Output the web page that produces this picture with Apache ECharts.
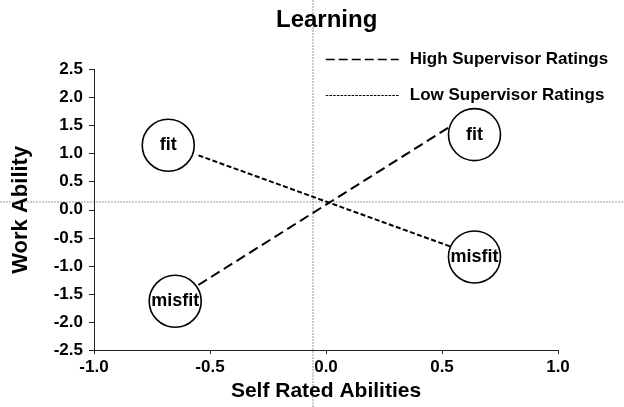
<!DOCTYPE html>
<html><head><meta charset="utf-8">
<script src="https://cdn.jsdelivr.net/npm/echarts@6/dist/echarts.min.js"></script>
<style>html,body{margin:0;padding:0;background:#fff}#c{width:624px;height:407px}</style>
</head><body><div id="c"></div>
<script>
// ---- data ----
const circleLabels = ['fit', 'misfit', 'fit', 'misfit'];
const circleX = [-0.68, -0.65, 0.64, 0.64];
const circleY = [1.15, -1.63, 1.34, -0.84];
const seriesNames = ['High Supervisor Ratings', 'Low Supervisor Ratings'];
const highX = [-0.55, 0.53];
const highY = [-1.34, 1.47];
const lowX = [-0.55, 0.54];
const lowY = [0.97, -0.66];
const xTickRange = [-1.0, 1.0];
const yTickRange = [-2.5, 2.5];
const tickStep = 0.5;

const FONT = "'Liberation Sans', Arial, sans-serif";
const chart = echarts.init(document.getElementById('c'), null, {renderer: 'canvas'});
const W = chart.getWidth(), H = chart.getHeight();

const zip = (xs, ys) => xs.map((x, i) => [x, ys[i]]);

chart.setOption({
  animation: false,
  backgroundColor: '#fff',
  color: ['#000', '#000', '#000'],
  title: {
    text: 'Learning', left: 276, top: 8, padding: 0,
    textStyle: {fontFamily: FONT, fontSize: 24, fontWeight: 'bold', color: '#000'}
  },
  legend: {
    orient: 'vertical', left: 325, top: 51, padding: 0, itemWidth: 73, itemHeight: 14, itemGap: 19,
    textStyle: {fontFamily: FONT, fontSize: 17, fontWeight: 'bold', color: '#000', padding: [0, 0, 0, 6]},
    data: [
      {name: seriesNames[0], itemStyle: {opacity: 0}, lineStyle: {color: '#000', width: 1.5, type: [9, 4]}},
      {name: seriesNames[1], itemStyle: {opacity: 0}, lineStyle: {color: '#000', width: 1.2, type: [2.5, 1.2]}}
    ]
  },
  grid: {left: 94, right: 66, top: 69.5, bottom: 54.7, containLabel: false},
  xAxis: {
    type: 'value', min: xTickRange[0], max: xTickRange[1], interval: tickStep,
    name: 'Self Rated Abilities', nameLocation: 'middle', nameGap: 30,
    nameTextStyle: {fontFamily: FONT, fontSize: 21, fontWeight: 'bold', color: '#000'},
    axisLine: {show: true, onZero: false, lineStyle: {color: '#222', width: 1}},
    axisTick: {show: true, inside: false, length: 4, lineStyle: {color: '#222'}},
    axisLabel: {margin: 9, fontFamily: FONT, fontSize: 17, fontWeight: 'bold', color: '#000',
      formatter: v => v.toFixed(1)},
    splitLine: {show: false}
  },
  yAxis: {
    type: 'value', min: yTickRange[0], max: yTickRange[1], interval: tickStep,
    name: 'Work Ability', nameLocation: 'middle', nameGap: 62,
    nameTextStyle: {fontFamily: FONT, fontSize: 22, fontWeight: 'bold', color: '#000'},
    axisLine: {show: true, onZero: false, lineStyle: {color: '#222', width: 1}},
    axisTick: {show: true, inside: false, length: 5, lineStyle: {color: '#222'}},
    axisLabel: {margin: 11, fontFamily: FONT, fontSize: 17, fontWeight: 'bold', color: '#000',
      formatter: v => v.toFixed(1)},
    splitLine: {show: false}
  },
  graphic: [
    {type: 'line', z: 0, silent: true, shape: {x1: W / 2 + 1, y1: 0, x2: W / 2 + 1, y2: H},
      style: {stroke: '#999', lineWidth: 1, lineDash: [2, 1]}},
    {type: 'line', z: 0, silent: true, shape: {x1: 0, y1: H / 2 - 1.5, x2: W, y2: H / 2 - 1.5},
      style: {stroke: '#999', lineWidth: 1, lineDash: [2, 1]}}
  ],
  series: [
    {name: seriesNames[0], type: 'line', data: zip(highX, highY), symbol: 'none', z: 3,
      itemStyle: {color: '#000'},
      lineStyle: {color: '#000', width: 2, type: [10, 5]}},
    {name: seriesNames[1], type: 'line', data: zip(lowX, lowY), symbol: 'none', z: 3,
      itemStyle: {color: '#000'},
      lineStyle: {color: '#000', width: 2, type: [5, 2.5]}},
    {type: 'scatter', z: 5, symbol: 'circle', symbolSize: 52,
      data: circleX.map((x, i) => ({name: circleLabels[i], value: [x, circleY[i]]})),
      itemStyle: {color: '#fff', borderColor: '#000', borderWidth: 1.6, opacity: 1},
      label: {show: true, position: 'inside', formatter: p => p.name,
        fontFamily: FONT, fontSize: 18, fontWeight: 'bold', color: '#000'}
    }
  ]
});
</script></body></html>
